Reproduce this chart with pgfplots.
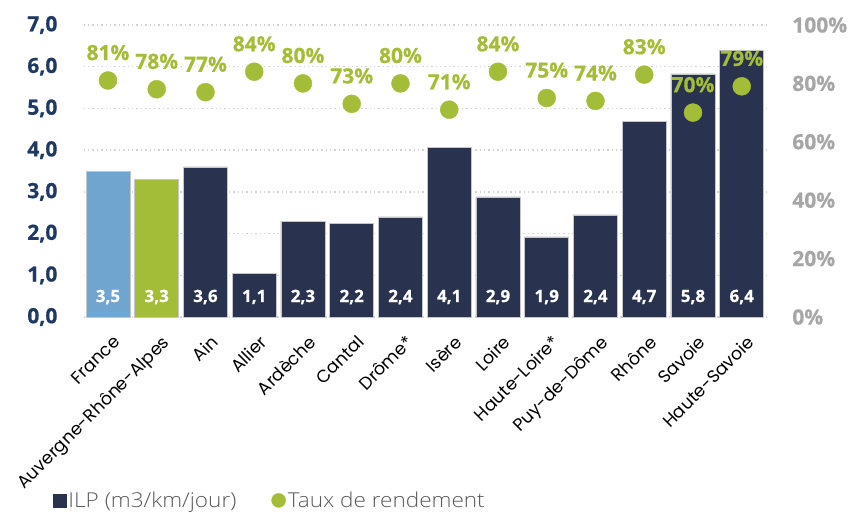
\documentclass[border=0pt]{standalone}
\usepackage{fontspec}
\setmainfont{Open Sans}
\newfontfamily\labfont{Poppins}
\IfFontExistsTF{Open Sans ExtraBold}{\newfontfamily\heavy{Open Sans ExtraBold}}{\newfontfamily\heavy{Open Sans}[UprightFont=* Bold, FakeBold=0.6]}
\IfFontExistsTF{Open Sans Light}{\newfontfamily\legfont{Open Sans Light}[FakeStretch=1.1]}{\newfontfamily\legfont{Open Sans}[FakeStretch=1.05]}
\usepackage{pgfplots}
\pgfplotsset{compat=1.18}
\definecolor{barblue}{HTML}{6FA5CE}
\definecolor{bargreen}{HTML}{A4BD38}
\definecolor{barnavy}{HTML}{29334F}
\definecolor{ticknavy}{HTML}{1F3864}
\definecolor{tickgray}{HTML}{A6A6A6}
\definecolor{gridgray}{HTML}{D3D3D3}
\definecolor{legtext}{HTML}{595959}
\begin{document}
\begin{tikzpicture}
\begin{axis}[
  scale only axis, width=682.5pt, height=292pt,
  xmin=-0.5, xmax=13.5, ymin=0, ymax=7,
  xtick={0,...,13},
  xticklabels={France, Auvergne-Rhône-Alpes, Ain, Allier, Ardèche, Cantal, Drôme*, Isère, Loire, Haute-Loire*, Puy-de-Dôme, Rhône, Savoie, Haute-Savoie},
  xticklabel style={rotate=45, anchor=north east, inner sep=0pt, font=\labfont\fontsize{17.5}{17.5}\selectfont, text=black, xshift=-9pt, yshift=-15pt},
  ytick={0,1,...,7},
  yticklabel style={inner sep=0pt, anchor=east, xshift=-26pt, font=\heavy\fontsize{21}{21}\selectfont, text=ticknavy},
  /pgf/number format/.cd, use comma, fixed, fixed zerofill, precision=1, assume math mode=true, /pgfplots/.cd,
  ymajorgrids, grid style={gridgray, line width=1.4pt, dash pattern=on 1.4pt off 3pt},
  axis line style={draw=none}, major tick length=0pt,
  clip=false,
]
\addplot[ybar, bar width=44pt, bar shift=0pt, fill=barblue, draw=gray!45, line width=0.6pt]
  coordinates {(0,3.5)};
\addplot[ybar, bar width=44pt, bar shift=0pt, fill=bargreen, draw=gray!45, line width=0.6pt]
  coordinates {(1,3.3)};
\addplot[ybar, bar width=44pt, bar shift=0pt, fill=barnavy, draw=gray!45, line width=0.6pt]
  coordinates {(2,3.6) (3,1.05) (4,2.3) (5,2.25) (6,2.4) (7,4.07) (8,2.88) (9,1.92) (10,2.45) (11,4.68) (12,5.83) (13,6.4)};
\addplot[draw=none, mark=none, nodes near coords, point meta=explicit symbolic,
  every node near coord/.append style={anchor=center, yshift=20pt, text=white, font=\heavy\fontsize{17}{17}\selectfont}]
  coordinates {(0,0)[3,5] (1,0)[3,3] (2,0)[3,6] (3,0)[1,1] (4,0)[2,3] (5,0)[2,2] (6,0)[2,4] (7,0)[4,1] (8,0)[2,9] (9,0)[1,9] (10,0)[2,4] (11,0)[4,7] (12,0)[5,8] (13,0)[6,4]};
\end{axis}
\begin{axis}[
  scale only axis, width=682.5pt, height=292pt,
  xmin=-0.5, xmax=13.5, ymin=0, ymax=100,
  axis x line=none,
  axis y line*=right,
  ytick={0,20,...,100},
  yticklabel={\pgfmathprintnumber{\tick}\%},
  yticklabel style={inner sep=0pt, anchor=west, xshift=26pt, font=\heavy\fontsize{21}{21}\selectfont, text=tickgray},
  /pgf/number format/assume math mode=true,
  axis line style={draw=none}, major tick length=0pt,
  clip=false,
  legend style={at={(axis description cs:-0.045,-0.628)}, anchor=west, draw=none, fill=none, inner sep=0pt,
    font=\legfont\fontsize{20.5}{20.5}\selectfont, text=legtext, legend columns=2,
    /tikz/every even column/.append style={column sep=33pt},
    nodes={inner sep=2pt}},
  legend cell align=left,
]
\addlegendimage{legend image code/.code={\fill[barnavy] (0pt,-6.5pt) rectangle (13pt,6.5pt);}}
\addlegendentry{ILP (m3/km/jour)}
\addlegendimage{legend image code/.code={\fill[bargreen] (7pt,0pt) circle (7pt);}}
\addlegendentry{Taux de rendement}
\addplot[only marks, mark=*, mark size=9pt, color=bargreen, forget plot,
  nodes near coords={\pgfmathprintnumber{\pgfplotspointmeta}\%}, point meta=explicit,
  every node near coord/.append style={anchor=south, inner sep=0pt, yshift=20pt, text=bargreen, font=\heavy\fontsize{21}{21}\selectfont}]
  coordinates {(0,81)[81] (1,78)[78] (2,77)[77] (3,84)[84] (4,80)[80] (5,73)[73] (6,80)[80] (7,71)[71] (8,84)[84] (9,75)[75] (10,74)[74] (11,83)[83] (12,70)[70] (13,79)[79]};
\end{axis}
\pgfresetboundingbox
\path[use as bounding box] (-83.6pt,-196pt) rectangle (774.4pt,317pt);
\end{tikzpicture}
\end{document}
